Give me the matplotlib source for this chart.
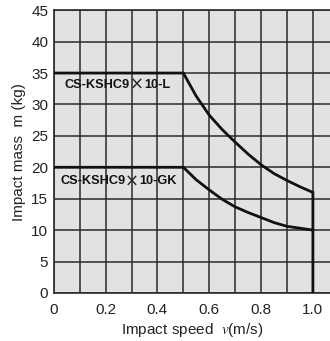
import matplotlib
matplotlib.use("Agg")
import matplotlib.pyplot as plt
from matplotlib.offsetbox import TextArea, HPacker, AnnotationBbox

plt.rcParams['font.family'] = ['Liberation Sans', 'DejaVu Sans']
plt.rcParams['mathtext.fontset'] = 'stix'

speed_L = [0.0, 0.5, 0.55, 0.6, 0.65, 0.7, 0.75, 0.8, 0.85, 0.9, 0.95, 1.0, 1.0]
mass_L = [35, 35, 31.3, 28.3, 26.0, 24.0, 22.1, 20.4, 19.0, 17.9, 16.9, 16.0, 0]
speed_GK = [0.0, 0.5, 0.55, 0.6, 0.65, 0.7, 0.75, 0.8, 0.85, 0.9, 0.95, 1.0]
mass_GK = [20, 20, 18.0, 16.4, 14.9, 13.7, 12.8, 12.0, 11.2, 10.6, 10.3, 10.0]
label_L = ["CS-KSHC9", "×", "10-L"]
label_GK = ["CS-KSHC9", "×", "10-GK"]
xticks = [0, 0.2, 0.4, 0.6, 0.8, 1.0]
xtick_labels = ["0", "0.2", "0.4", "0.6", "0.8", "1.0"]
yticks = [0, 5, 10, 15, 20, 25, 30, 35, 40, 45]

fig = plt.figure(figsize=(3.30, 3.41), dpi=100)
ax = fig.add_axes([0.163, 0.141, 0.837, 0.829])
ax.set_facecolor('#e2e2e2')
ax.set_xlim(0, 1.066)
ax.set_ylim(0, 45)

ax.set_xticks([i / 10 for i in range(11)], minor=True)
ax.set_xticks(xticks)
ax.set_xticklabels(xtick_labels)
ax.set_yticks(yticks)
ax.grid(True, which='both', color='#2a2a2a', linewidth=1.1)
ax.set_axisbelow(True)
ax.tick_params(which='both', length=0, labelsize=11, colors='#222222')
ax.tick_params(axis='y', pad=4)
ax.tick_params(axis='x', pad=7)

for side in ['left', 'bottom', 'top']:
    ax.spines[side].set_color('#2a2a2a')
    ax.spines[side].set_linewidth(1.2)
ax.spines['right'].set_visible(False)

ax.plot(speed_L, mass_L, color='#111111', linewidth=2.0, solid_joinstyle='miter', zorder=3)
ax.plot(speed_GK, mass_GK, color='#111111', linewidth=2.0, solid_joinstyle='miter', zorder=3)


def make_label(parts, xy):
    boxes = []
    for i, p in enumerate(parts):
        if p == "×":
            props = dict(fontsize=12, fontweight='normal', color='#222222', family='DejaVu Sans')
        else:
            props = dict(fontsize=9.2, fontweight='bold', color='#111111')
        boxes.append(TextArea(p, textprops=props))
    pack = HPacker(children=boxes, align='center', pad=0, sep=0)
    ab = AnnotationBbox(pack, xy, xycoords='data', box_alignment=(0, 0.5),
                        frameon=False, pad=0, zorder=4)
    ax.add_artist(ab)


make_label(label_L, (0.043, 33.1))
make_label(label_GK, (0.024, 17.8))

ax.set_ylabel("Impact mass  m (kg)", fontsize=11, color='#222222', labelpad=4)
ax.set_xlabel("Impact speed  $v$(m/s)", fontsize=11, color='#222222', labelpad=3)

fig.savefig("out.png", dpi=100)
